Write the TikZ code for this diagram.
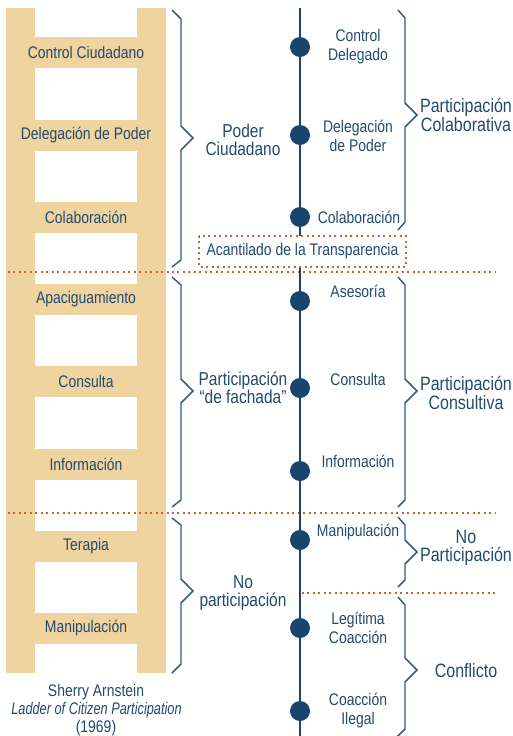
\documentclass[tikz,border=0pt]{standalone}
\usepackage{fontspec}
\setmainfont{Liberation Sans}[FakeStretch=0.83]
\newfontfamily\narrowit{Liberation Sans}[FakeStretch=0.76]

\definecolor{ladderbeige}{RGB}{240,212,160}
\definecolor{inkblue}{RGB}{35,74,110}
\definecolor{dotblue}{RGB}{24,68,110}
\definecolor{braceblue}{RGB}{52,92,132}
\definecolor{cliffred}{RGB}{200,100,42}

\tikzset{
  small/.style={text=inkblue, align=center, inner sep=0pt, font=\fontsize{12.6}{14.25}\selectfont},
  large/.style={text=inkblue, align=center, inner sep=0pt, font=\fontsize{14.5}{14}\selectfont},
  rung/.style={fill=ladderbeige, draw=none},
  brace line/.style={draw=braceblue, line width=1.1pt, line join=miter},
  cliff line/.style={draw=cliffred, line width=1.5pt, dash pattern=on 1.5pt off 2.6pt},
  dot/.style={circle, fill=dotblue, minimum size=15pt, inner sep=0pt}
}

\begin{document}
\begin{tikzpicture}[x=0.75pt, y=-0.75pt]
\useasboundingbox (0,0) rectangle (513,736);

% ladder
\fill [rung] (6,8) rectangle (35,673);
\fill [rung] (137,8) rectangle (166,673);
\fill [rung] (35,37) rectangle (137,68);
\fill [rung] (35,120) rectangle (137,151);
\fill [rung] (35,202) rectangle (137,233);
\fill [rung] (35,284) rectangle (137,315);
\fill [rung] (35,366) rectangle (137,397);
\fill [rung] (35,449) rectangle (137,480);
\fill [rung] (35,531) rectangle (137,562);
\fill [rung] (35,613) rectangle (137,644);
\node [small] (r1) at (86,52.5)  {Control Ciudadano};
\node [small] (r2) at (86,135.5) {Delegación de Poder};
\node [small] (r3) at (86,217.5) {Colaboración};
\node [small] (r4) at (86,299.5) {Apaciguamiento};
\node [small] (r5) at (86,381.5) {Consulta};
\node [small] (r6) at (86,464.5) {Información};
\node [small] (r7) at (86,546.5) {Terapia};
\node [small] (r8) at (86,628.5) {Manipulación};

\node [small] (author) at (96,692) {Sherry Arnstein};
\node [small, font=\fontsize{12.6}{14.25}\narrowit\itshape] (title) at (96.5,710) {Ladder of Citizen Participation};
\node [small] (year) at (96,728) {(1969)};

% dotted cuts
\draw [cliff line] (8,272)--(495,272);
\draw [cliff line] (8,513)--(495,513);
\draw [cliff line] (302,593)--(495,593);

% left braces
\draw [brace line] (172,10)--(181,19)--(181,126)--(193,138)--(181,150)--(181,260)--(172,267);
\draw [brace line] (172,277)--(181,285)--(181,379)--(193,391)--(181,403)--(181,500)--(172,507);
\draw [brace line] (172,518)--(181,525)--(181,579)--(193,591)--(181,603)--(181,664)--(172,673);
\node [large, font=\fontsize{14}{13.6}\selectfont] (poder) at (243,140) {Poder\\Ciudadano};
\node [large, font=\fontsize{14}{13.6}\selectfont] (fachada) at (243,388) {Participación\\“de fachada”};
\node [large, font=\fontsize{14}{13.6}\selectfont] (nopart) at (243,593) {No\\participación};

% axis and steps
\coordinate (axtop) at (300,8);
\coordinate (axbot) at (300,736);
\draw [dotblue, line width=1.3pt] (axtop)--(axbot);
\node [dot] (d1) at (300,47)  {};
\node [dot] (d2) at (300,135) {};
\node [dot] (d3) at (300,217) {};
\node [dot] (d4) at (300,301) {};
\node [dot] (d5) at (300,388) {};
\node [dot] (d6) at (300,471) {};
\node [dot] (d7) at (300,540) {};
\node [dot] (d8) at (300,628) {};
\node [dot] (d9) at (300,711) {};
\node [small] (s1) at (358,47)  {Control\\Delegado};
\node [small] (s2) at (358,136) {Delegación\\de Poder};
\node [small] (s3) at (359,217) {Colaboración};
\node [small] (s4) at (358,291) {Asesoría};
\node [small] (s5) at (358,379) {Consulta};
\node [small] (s6) at (358,461) {Información};
\node [small] (s7) at (358,532) {Manipulación};
\node [small] (s8) at (358,628) {Legítima\\Coacción};
\node [small] (s9) at (358,711) {Coacción\\Ilegal};

% cliff
\draw [cliff line, fill=white] (199,236) rectangle (406,267);
\node [small] (cliff) at (302.5,251.5) {Acantilado de la Transparencia};

% right braces
\draw [brace line] (398,10)--(405,18)--(405,103)--(417,115)--(405,127)--(405,222)--(398,230);
\draw [brace line] (398,277)--(405,285)--(405,379)--(417,391)--(405,403)--(405,500)--(398,507);
\draw [brace line] (398,517)--(405,525)--(405,540)--(417,552)--(405,564)--(405,580)--(398,587);
\draw [brace line] (398,597)--(405,605)--(405,658)--(417,670)--(405,682)--(405,729)--(397,737);
\node [large] (colab) at (466,115) {Participación\\Colaborativa};
\node [large] (consul) at (466,393) {Participación\\Consultiva};
\node [large] (nopart2) at (466,548) {No\\Participación};
\node [large] (conflict) at (466,671) {Conflicto};

\end{tikzpicture}
\end{document}
